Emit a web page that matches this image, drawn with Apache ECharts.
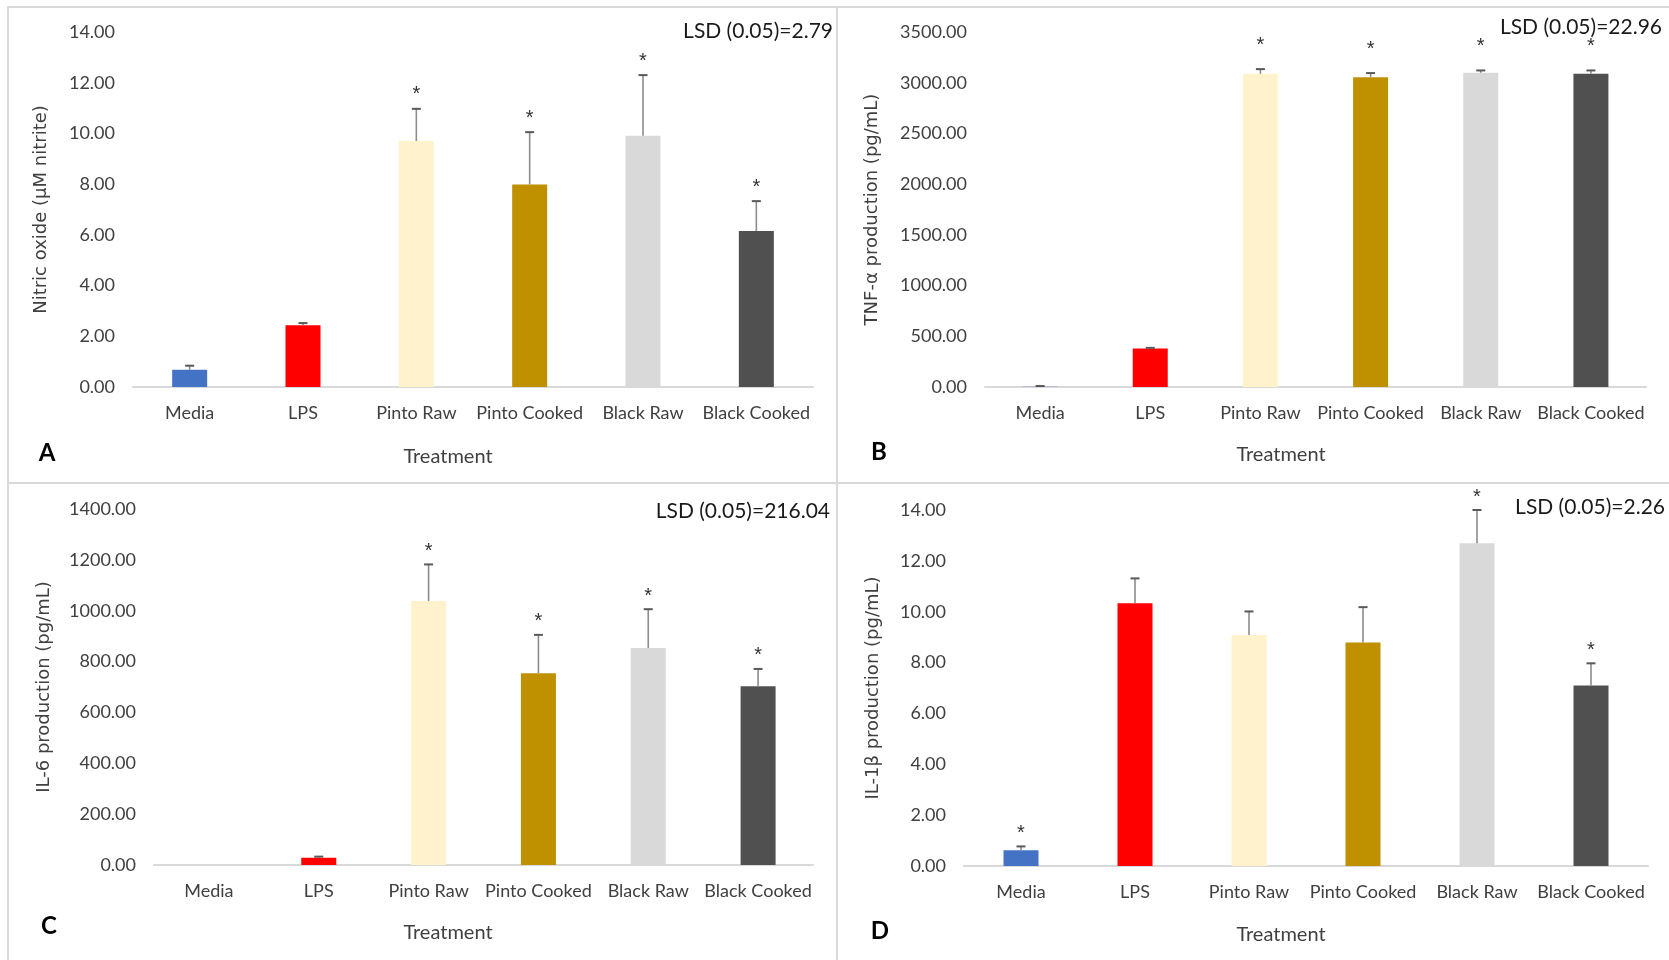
<!DOCTYPE html>
<html>
<head>
<meta charset="utf-8">
<script src="https://cdn.jsdelivr.net/npm/echarts@6/dist/echarts.min.js"></script>
<style>
  html, body { margin: 0; padding: 0; background: #fff; }
  #chart { width: 1669px; height: 960px; }
</style>
</head>
<body>
<div id="chart"></div>
<script>
// Treatments shared by all four panels
const categories = ['Media', 'LPS', 'Pinto Raw', 'Pinto Cooked', 'Black Raw', 'Black Cooked'];

// A: nitric oxide (µM nitrite), mean and upper error
const nitricOxide = [0.68, 2.44, 9.70, 7.99, 9.91, 6.15];
const nitricOxideErr = [0.16, 0.08, 1.27, 2.06, 2.39, 1.18];
const nitricOxideStars = ['', '', '*', '*', '*', '*'];

// B: TNF-α production (pg/mL)
const tnfAlpha = [3, 380, 3088, 3055, 3098, 3088];
const tnfAlphaErr = [7, 6, 46, 40, 23, 33];
const tnfAlphaStars = ['', '', '*', '*', '*', '*'];

// C: IL-6 production (pg/mL)
const il6 = [0, 29, 1038, 754, 853, 703];
const il6Err = [0, 4, 144, 151, 153, 68];
const il6Stars = ['', '', '*', '*', '*', '*'];

// D: IL-1β production (pg/mL)
const il1b = [0.62, 10.33, 9.08, 8.79, 12.69, 7.10];
const il1bErr = [0.15, 0.98, 0.93, 1.39, 1.31, 0.87];
const il1bStars = ['*', '', '', '', '*', '*'];

// Y-axis ranges per panel
const yMax = [14, 3500, 1400, 14];
const yStep = [2, 500, 200, 2];

const yTitles = ['Nitric oxide (µM nitrite)', 'TNF-α production (pg/mL)', 'IL-6 production (pg/mL)', 'IL-1β production (pg/mL)'];
const lsdTexts = ['LSD (0.05)=2.79', 'LSD (0.05)=22.96', 'LSD (0.05)=216.04', 'LSD (0.05)=2.26'];
const panelLetters = ['A', 'B', 'C', 'D'];
const xTitle = 'Treatment';

const barColors = ['#4472C4', '#FF0000', '#FFF2CC', '#BF9000', '#D9D9D9', '#505050'];
const FONT = 'Lato, "Liberation Sans", sans-serif';
const TEXT = '#404040';

const panels = [
  { mean: nitricOxide, err: nitricOxideErr, stars: nitricOxideStars },
  { mean: tnfAlpha, err: tnfAlphaErr, stars: tnfAlphaStars },
  { mean: il6, err: il6Err, stars: il6Stars },
  { mean: il1b, err: il1bErr, stars: il1bStars }
];

// Layout of each panel: plot area, y-title gap, star gap, decorations
const layout = [
  { left: 133, top: 32, width: 680, height: 355, nameGap: 83, starGap: 14,
    lsd: [833, 31], letter: [47, 453], xt: [448, 457] },
  { left: 985, top: 32, width: 661, height: 355, nameGap: 104, starGap: 24,
    lsd: [1662, 27], letter: [879, 452], xt: [1281, 455] },
  { left: 154, top: 509, width: 659, height: 356, nameGap: 101, starGap: 13,
    lsd: [830, 511], letter: [49, 926], xt: [448, 933] },
  { left: 964, top: 510, width: 684, height: 356, nameGap: 82, starGap: 13,
    lsd: [1665, 507], letter: [880, 931], xt: [1281, 935] }
];

const grids = [], xAxes = [], yAxes = [], series = [], graphics = [];

panels.forEach((p, k) => {
  const L = layout[k];
  grids.push({ left: L.left, top: L.top, width: L.width, height: L.height, containLabel: false });
  xAxes.push({
    type: 'category', gridIndex: k, data: categories,
    axisLine: { lineStyle: { color: '#d9d9d9', width: 2 } },
    axisTick: { show: false },
    axisLabel: { interval: 0, margin: 17, color: TEXT, fontSize: 18, fontFamily: FONT }
  });
  yAxes.push({
    type: 'value', gridIndex: k, min: 0, max: yMax[k], interval: yStep[k],
    name: yTitles[k], nameLocation: 'middle', nameGap: L.nameGap, nameRotate: 90,
    nameTextStyle: { color: TEXT, fontSize: 18, fontFamily: 'DejaVu Sans, sans-serif' },
    axisLine: { show: false }, axisTick: { show: false }, splitLine: { show: false },
    axisLabel: { margin: 18, color: TEXT, fontSize: 18, fontFamily: FONT,
      formatter: v => v.toFixed(2) }
  });
  series.push({
    type: 'bar', xAxisIndex: k, yAxisIndex: k, barWidth: 35,
    data: p.mean.map((v, i) => ({ value: v, itemStyle: { color: barColors[i] } })),
    animation: false
  });
  series.push({
    type: 'custom', xAxisIndex: k, yAxisIndex: k, z: 5, animation: false,
    data: categories.map((c, i) => [i, p.mean[i], p.err[i]]),
    renderItem: (params, api) => {
      const i = api.value(0), m = api.value(1), e = api.value(2);
      const base = api.coord([i, m]);
      const top = api.coord([i, m + e]);
      const children = [];
      if (e > 0) {
        children.push({ type: 'line', shape: { x1: base[0], y1: base[1], x2: top[0], y2: top[1] },
          style: { stroke: '#8c8c8c', lineWidth: 1.6 } });
        children.push({ type: 'line', shape: { x1: top[0] - 4.5, y1: top[1], x2: top[0] + 4.5, y2: top[1] },
          style: { stroke: '#595959', lineWidth: 2 } });
      }
      const s = p.stars[params.dataIndex];
      if (s) {
        children.push({ type: 'text', x: top[0], y: top[1] - L.starGap,
          style: { text: s, fill: '#333', fontSize: 20, fontFamily: '"Liberation Sans", sans-serif',
            align: 'center', verticalAlign: 'middle' } });
      }
      return { type: 'group', children };
    }
  });

  graphics.push({ type: 'text', x: L.lsd[0], y: L.lsd[1],
    style: { text: lsdTexts[k], fill: '#1a1a1a', fontSize: 21, fontFamily: FONT, align: 'right', verticalAlign: 'middle' } });
  graphics.push({ type: 'text', x: L.letter[0], y: L.letter[1],
    style: { text: panelLetters[k], fill: '#000', fontSize: 24, fontWeight: 'bold', fontFamily: FONT, align: 'center', verticalAlign: 'middle' } });
  graphics.push({ type: 'text', x: L.xt[0], y: L.xt[1],
    style: { text: xTitle, fill: TEXT, fontSize: 20, fontFamily: FONT, align: 'center', verticalAlign: 'middle' } });
});

// Panel frame lines
const frame = [
  [7, 7, 1669, 7],
  [8, 7, 8, 960],
  [837, 7, 837, 960],
  [8, 483, 1669, 483]
];
frame.forEach(f => graphics.push({ type: 'line', z: -1,
  shape: { x1: f[0], y1: f[1], x2: f[2], y2: f[3] },
  style: { stroke: '#d9d9d9', lineWidth: 2 } }));

const chart = echarts.init(document.getElementById('chart'), null, { renderer: 'canvas' });
chart.setOption({
  backgroundColor: '#fff',
  animation: false,
  grid: grids, xAxis: xAxes, yAxis: yAxes, series: series,
  graphic: { elements: graphics }
});
</script>
</body>
</html>
